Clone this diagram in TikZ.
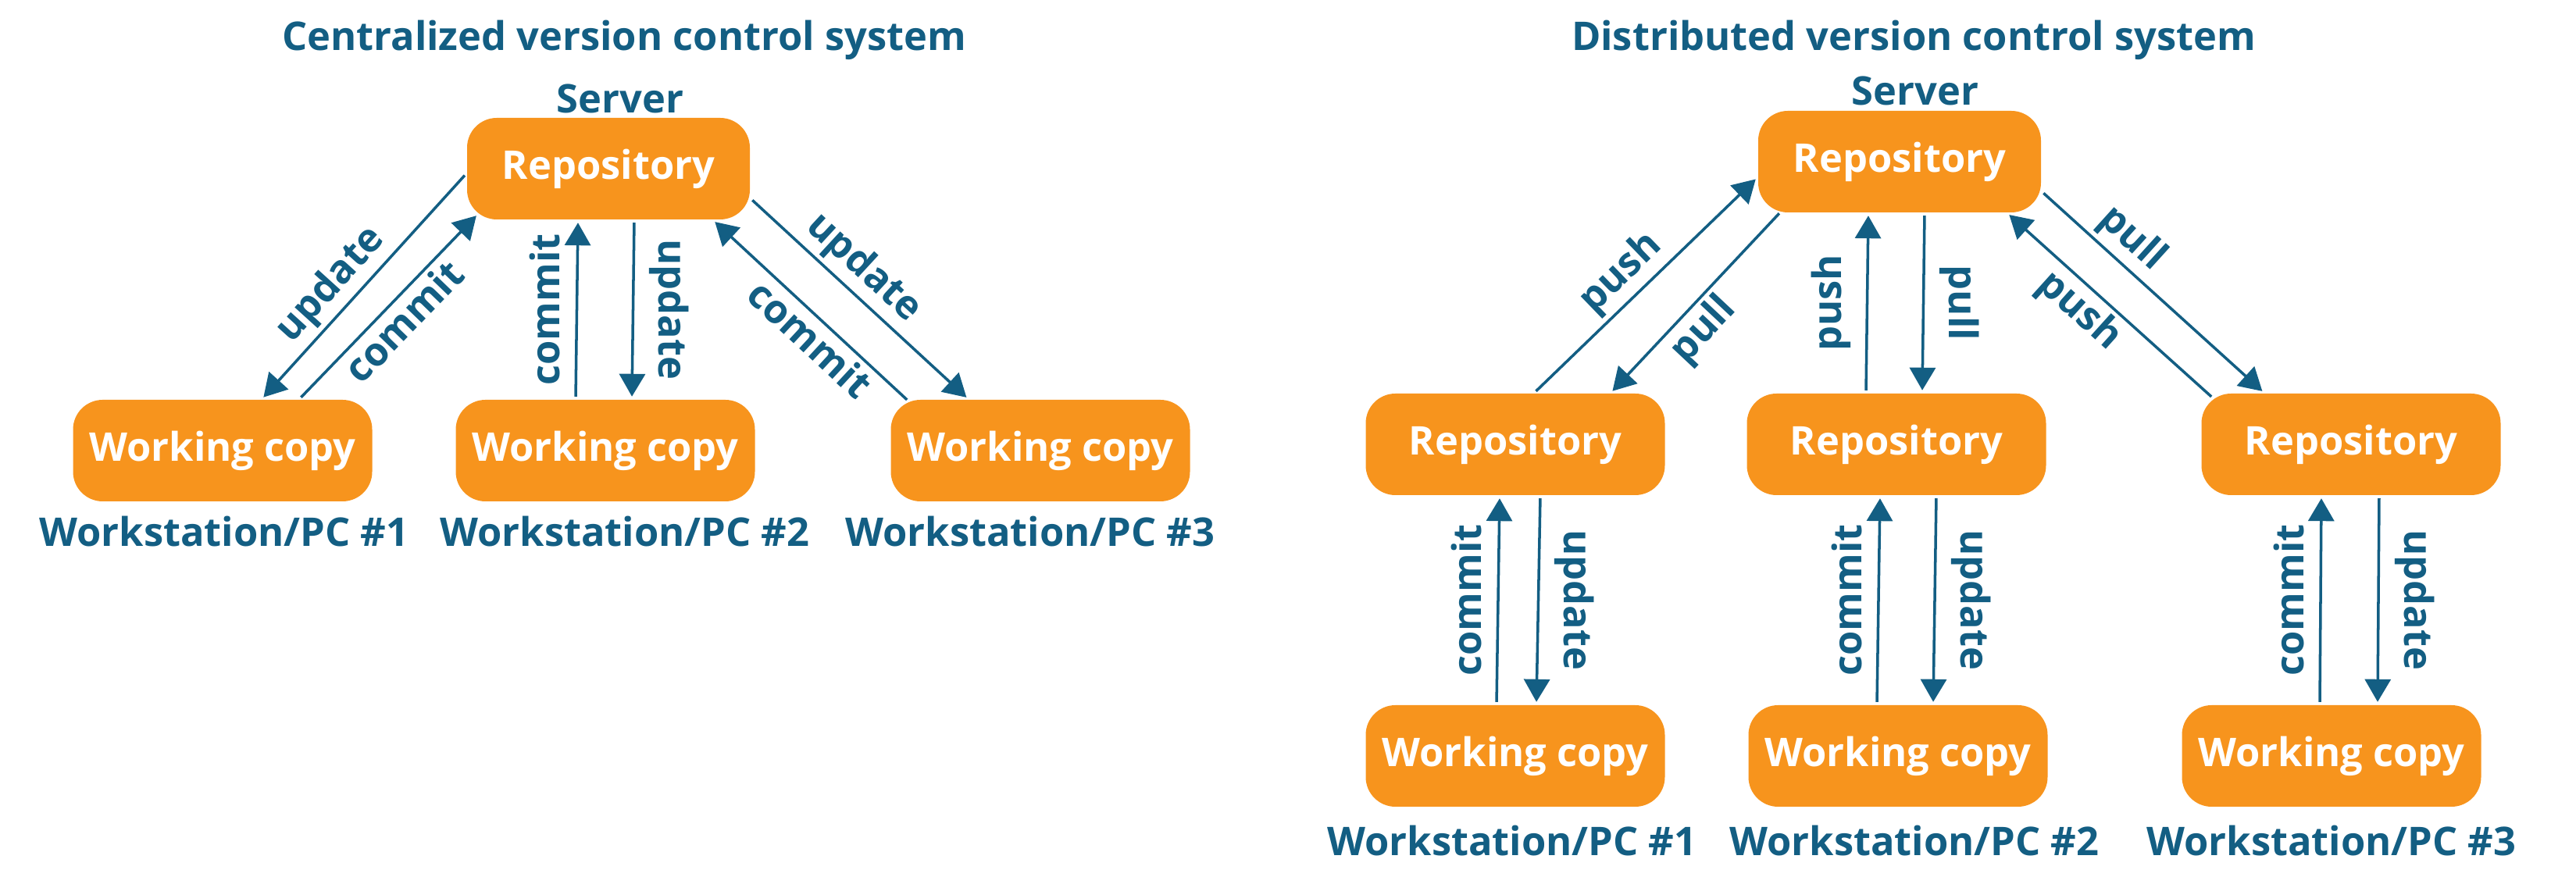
\documentclass[tikz,border=0pt]{standalone}
\usepackage{fontspec}
\setmainfont{Open Sans}
\usetikzlibrary{arrows.meta,positioning,calc}
\definecolor{Orange}{HTML}{F7941D}
\definecolor{Blue}{HTML}{135E83}

\begin{document}
\begin{tikzpicture}
[font=\fontsize{14.4}{17}\selectfont\bfseries,
box/.style={rectangle,rounded corners=0.38cm,fill=Orange,text=white,minimum width=3.83cm,minimum height=1.3cm,inner sep=0pt},
srv/.style={box,minimum width=3.62cm},
txt/.style={text=Blue,anchor=base,inner sep=0pt},
flow/.style={draw=Blue,line width=1pt,-{Triangle[length=2.9mm,width=3.3mm]},shorten >=1pt,shorten <=1pt},
lbl/.style={text=Blue,inner sep=1.5pt},
vlbl/.style={lbl,outer sep=4.5pt}
]
\useasboundingbox (0,0) rectangle (32.98,11.23);
\begin{scope}
%% centralized
\node[txt] (cTitle) at (7.99,10.58) {Centralized version control system};
\node[txt] (cServer) at (7.94,9.78) {Server};
\node[srv] (cRepo) at (7.79,9.07) {Repository};
\node[box] (cWorkA) at (2.85,5.46) {Working copy};
\node[box] (cWorkB) at (7.75,5.46) {Working copy};
\node[box] (cWorkC) at (13.32,5.46) {Working copy};
\node[txt] (cStationA) at (2.87,4.23) {Workstation/PC \#1};
\node[txt] (cStationB) at (8.00,4.23) {Workstation/PC \#2};
\node[txt] (cStationC) at (13.19,4.23) {Workstation/PC \#3};
%% arrows
\draw[flow] ([yshift=-0.06cm]cRepo.west) -- ([xshift=0.5cm]cWorkA.north)
node[lbl,pos=0.57,sloped,above] {update};
\draw[flow] ([xshift=0.98cm]cWorkA.north) -- ([shift={(0.15cm,0.08cm)}]cRepo.south west)
node[lbl,midway,sloped,below] {commit};
\draw[flow] ([xshift=-0.38cm]cWorkB.north) -- ([xshift=-0.39cm]cRepo.south)
node[vlbl,midway,rotate=90,above] {commit};
\draw[flow] ([xshift=0.33cm]cRepo.south) -- ([xshift=0.34cm]cWorkB.north)
node[vlbl,midway,rotate=-90,above] {update};
\draw[flow] ([shift={(0.24cm,-0.03cm)}]cWorkC.north west) -- ([xshift=-0.48cm]cRepo.south east)
node[lbl,pos=0.43,sloped,below] {commit};
\draw[flow] ([yshift=-0.38cm]cRepo.east) -- ([xshift=-0.92cm]cWorkC.north)
node[lbl,pos=0.44,sloped,above] {update};
\end{scope}
%%
\begin{scope}
%% distributed
\node[txt] (dTitle) at (24.50,10.58) {Distributed version control system};
\node[txt] (dServer) at (24.52,9.88) {Server};
\node[srv] (dRepo) at (24.32,9.16) {Repository};
\node[box] (dRepoA) at (19.40,5.54) {Repository};
\node[box] (dRepoB) at (24.28,5.54) {Repository};
\node[box] (dRepoC) at (30.10,5.54) {Repository};
\node[box] (dWorkA) at (19.40,1.55) {Working copy};
\node[box] (dWorkB) at (24.30,1.55) {Working copy};
\node[box] (dWorkC) at (29.85,1.55) {Working copy};
\node[txt] (dStationA) at (19.36,0.27) {Workstation/PC \#1};
\node[txt] (dStationB) at (24.51,0.27) {Workstation/PC \#2};
\node[txt] (dStationC) at (29.85,0.27) {Workstation/PC \#3};
%% push and pull
\draw[flow] ([xshift=0.24cm]dRepoA.north) -- ([yshift=-0.2cm]dRepo.west)
node[lbl,pos=0.47,sloped,above] {push};
\draw[flow] ([shift={(0.3cm,0.02cm)}]dRepo.south west) -- ([xshift=1.22cm]dRepoA.north)
node[lbl,pos=0.56,sloped,below] {pull};
\draw[flow] ([xshift=-0.39cm]dRepoB.north) -- ([xshift=-0.40cm]dRepo.south)
node[vlbl,midway,rotate=90,above] {push};
\draw[flow] ([xshift=0.32cm]dRepo.south) -- ([xshift=0.33cm]dRepoB.north)
node[vlbl,midway,rotate=-90,above] {pull};
\draw[flow] ([shift={(0.16cm,-0.07cm)}]dRepoC.north west) -- ([xshift=-0.44cm]dRepo.south east)
node[lbl,pos=0.57,sloped,below] {push};
\draw[flow] ([yshift=-0.38cm]dRepo.east) -- ([xshift=-1.11cm]dRepoC.north)
node[lbl,pos=0.33,sloped,above] {pull};
%% commit and update
\draw[flow] ([xshift=-0.24cm]dWorkA.north) -- ([xshift=-0.20cm]dRepoA.south)
node[vlbl,midway,rotate=90,above] {commit};
\draw[flow] ([xshift=0.32cm]dRepoA.south) -- ([xshift=0.27cm]dWorkA.north)
node[vlbl,midway,rotate=-90,above] {update};
\draw[flow] ([xshift=-0.27cm]dWorkB.north) -- ([xshift=-0.21cm]dRepoB.south)
node[vlbl,midway,rotate=90,above] {commit};
\draw[flow] ([xshift=0.51cm]dRepoB.south) -- ([xshift=0.45cm]dWorkB.north)
node[vlbl,midway,rotate=-90,above] {update};
\draw[flow] ([xshift=-0.15cm]dWorkC.north) -- ([xshift=-0.38cm]dRepoC.south)
node[vlbl,midway,rotate=90,above] {commit};
\draw[flow] ([xshift=0.36cm]dRepoC.south) -- ([xshift=0.59cm]dWorkC.north)
node[vlbl,midway,rotate=-90,above] {update};
\end{scope}
\end{tikzpicture}
\end{document}
